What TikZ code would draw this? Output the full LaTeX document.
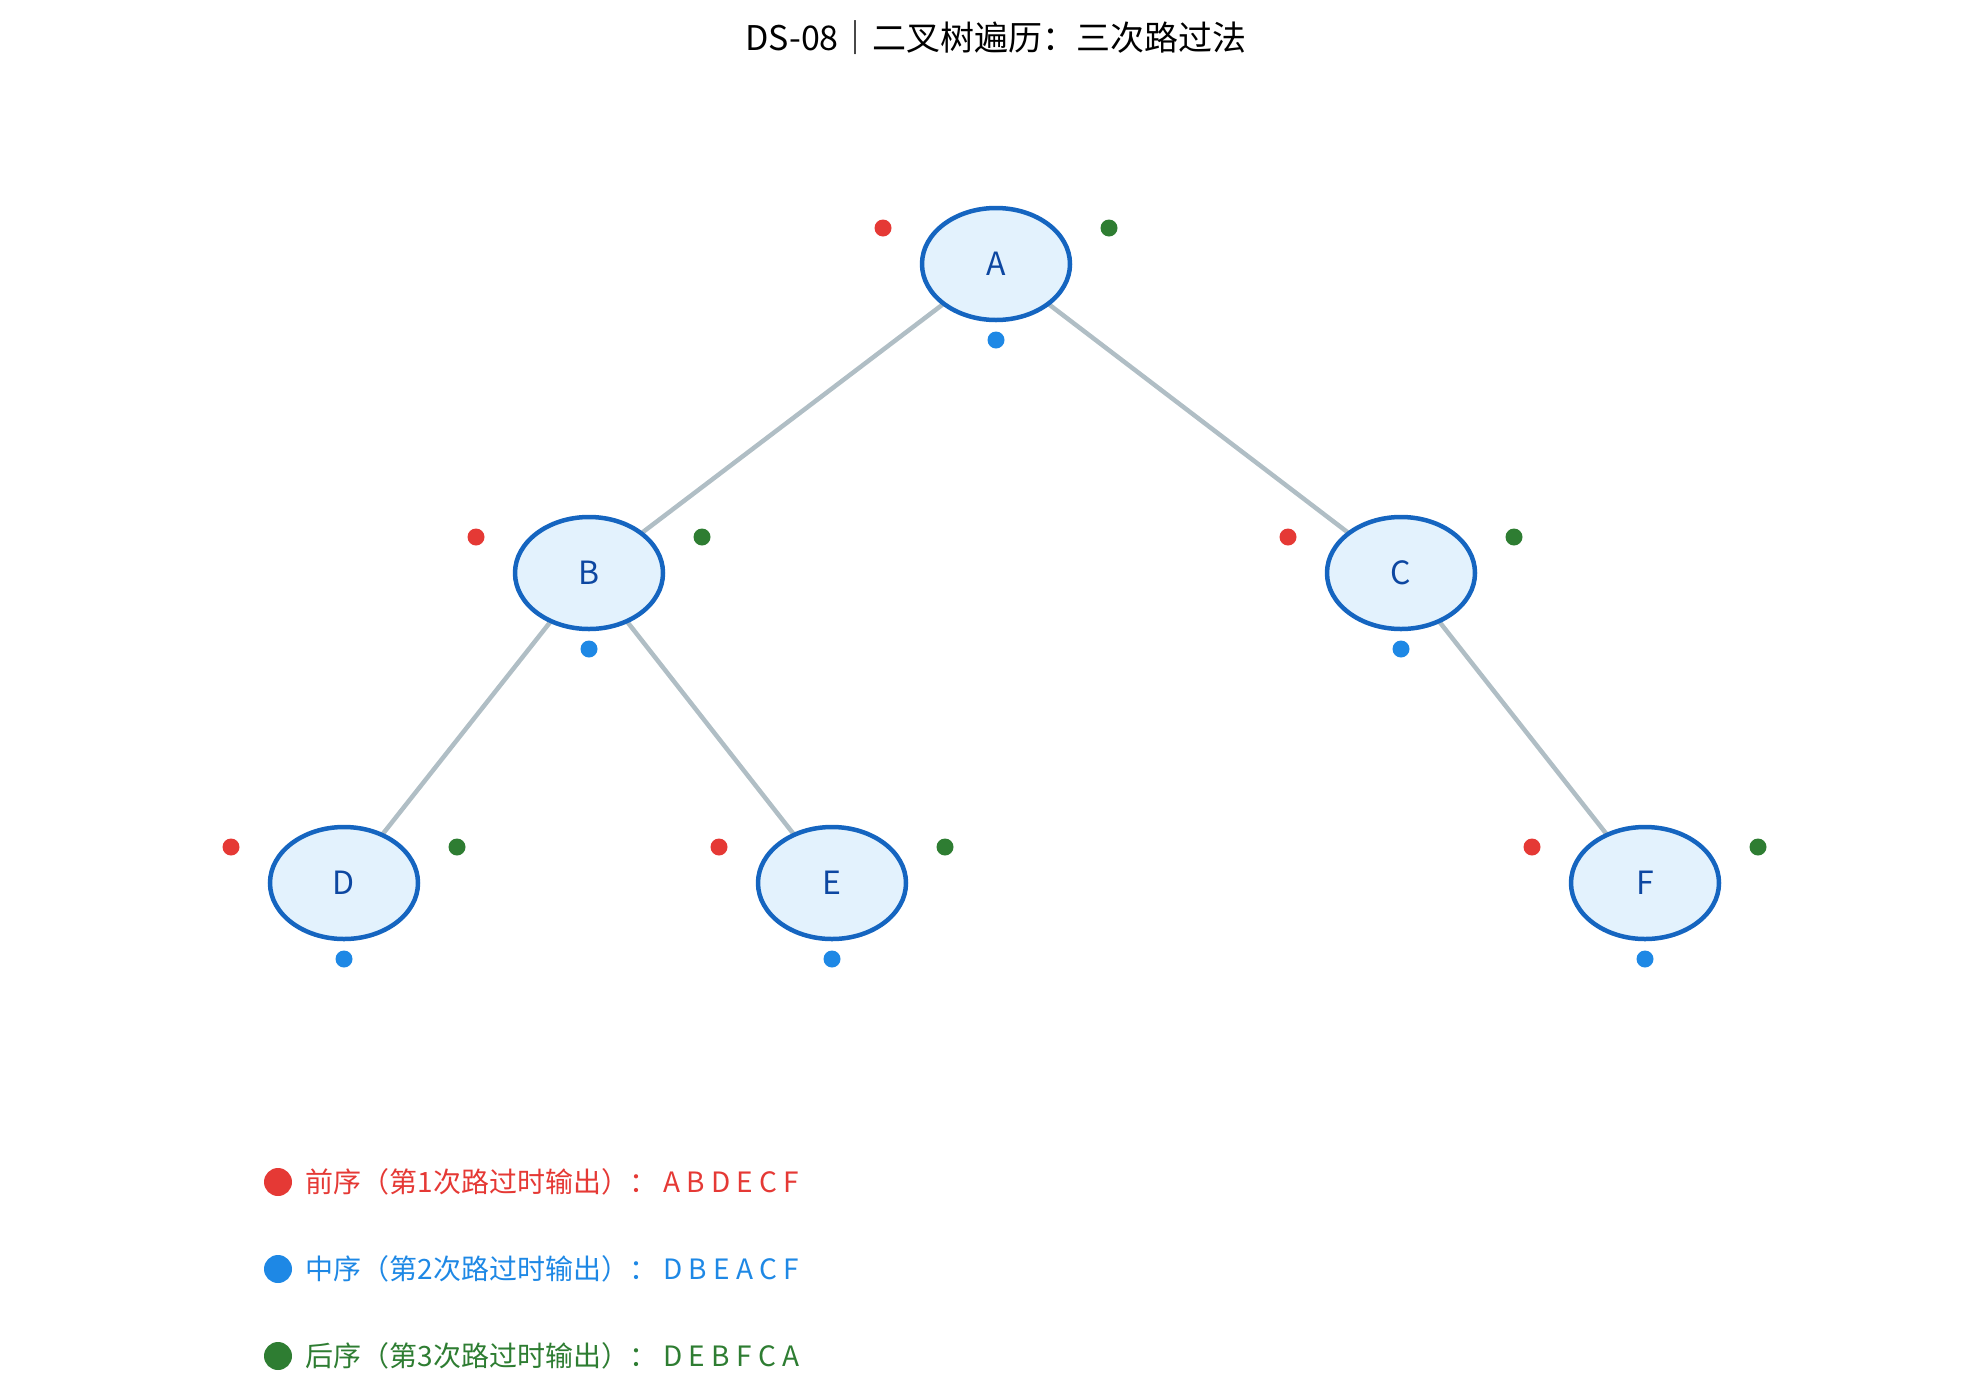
\documentclass[tikz,border=0pt]{standalone}
\usepackage{fontspec}
\setmainfont{Noto Sans CJK SC}
\definecolor{edgec}{HTML}{B0BEC5}
\definecolor{bordc}{HTML}{1565C0}
\definecolor{fillc}{HTML}{E3F2FD}
\definecolor{txtc}{HTML}{0D47A1}
\definecolor{redc}{HTML}{E53935}
\definecolor{bluec}{HTML}{1E88E5}
\definecolor{greenc}{HTML}{2E7D32}
\begin{document}
\begin{tikzpicture}[x=1pt,y=-1pt,
  tnode/.style={ellipse,draw=bordc,fill=fillc,line width=4.5pt,minimum width=148pt,minimum height=112pt,inner sep=0pt,text=txtc,font=\fontsize{32}{36}\selectfont},
  edge/.style={draw=edgec,line width=4.5pt},
  mk/.style={circle,inner sep=0pt,minimum size=17pt},
  lg/.style={anchor=west,font=\fontsize{28}{32}\selectfont}]
\usetikzlibrary{shapes.geometric}
\path[use as bounding box] (0,0) rectangle (1979,1385);
\node at (996,38) {\fontsize{34}{38}\selectfont DS-08｜二叉树遍历：三次路过法};
\foreach \n/\x/\y in {A/996/264,B/589/573,C/1401/573,D/344/883,E/832/883,F/1645/883}{
  \coordinate (p\n) at (\x,\y);
}
\draw[edge] (pA) -- (pB); \draw[edge] (pA) -- (pC);
\draw[edge] (pB) -- (pD); \draw[edge] (pB) -- (pE);
\draw[edge] (pC) -- (pF);
\foreach \n in {A,B,C,D,E,F}{
  \node[tnode] (\n) at (p\n) {\n};
  \node[mk,fill=redc] (r\n) at ([shift={(-113,-36)}]p\n) {};
  \node[mk,fill=greenc] (g\n) at ([shift={(113,-36)}]p\n) {};
  \node[mk,fill=bluec] (b\n) at ([shift={(0,76)}]p\n) {};
}
\node[circle,fill=redc,minimum size=28pt,inner sep=0pt] (l1) at (278,1182) {};
\node[circle,fill=bluec,minimum size=28pt,inner sep=0pt] (l2) at (278,1269) {};
\node[circle,fill=greenc,minimum size=28pt,inner sep=0pt] (l3) at (278,1356) {};
\node[lg,text=redc] (t1) at (302,1182) {前序（第1次路过时输出）：\ A B D E C F};
\node[lg,text=bluec] (t2) at (302,1269) {中序（第2次路过时输出）：\ D B E A C F};
\node[lg,text=greenc] (t3) at (302,1356) {后序（第3次路过时输出）：\ D E B F C A};
\end{tikzpicture}
\end{document}
